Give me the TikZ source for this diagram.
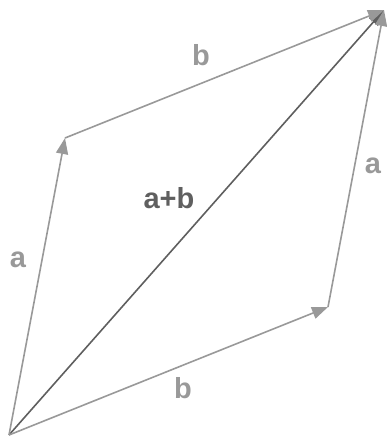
\documentclass[tikz,border=0pt]{standalone}
\usepackage{fontspec}
\setsansfont{Liberation Sans}
\usepackage{xcolor}
\usetikzlibrary{arrows.meta, positioning}

\definecolor{vecgray}{HTML}{999999}
\definecolor{sumgray}{HTML}{5F5F5F}

\begin{document}
\begin{tikzpicture}[x=1pt, y=-1pt,
  varr/.style = {-{Triangle[length=16pt,width=12pt]}, line width=1.6pt,
                 vecgray},
  sarr/.style = {-{Triangle[length=16pt,width=12pt]}, line width=1.6pt,
                 sumgray},
  lbl/.style  = {font=\sffamily\bfseries\fontsize{29}{29}\selectfont,
                 text=vecgray, inner sep=0pt},
]
\useasboundingbox (0,0) rectangle (386,436);

\coordinate (o)   at (9, 435);
\coordinate (pa)  at (65, 138);
\coordinate (pb)  at (328, 307);
\coordinate (pab) at (384, 10);

\draw[sarr] (o) -- (pab);
\draw[varr] (o) -- (pa);
\draw[varr] (o) -- (pb);
\draw[varr] (pa) -- (pab);
\draw[varr] (pb) -- (pab);

\node[lbl] (lbtop) at (201, 55)  {b};
\node[lbl] (lbbot) at (183, 388) {b};
\node[lbl] (laleft) at (18, 260) {a};
\node[lbl] (laright) at (373, 166) {a};
\node[lbl, text=sumgray] (lsum) at (169, 198) {a+b};

\end{tikzpicture}
\end{document}
